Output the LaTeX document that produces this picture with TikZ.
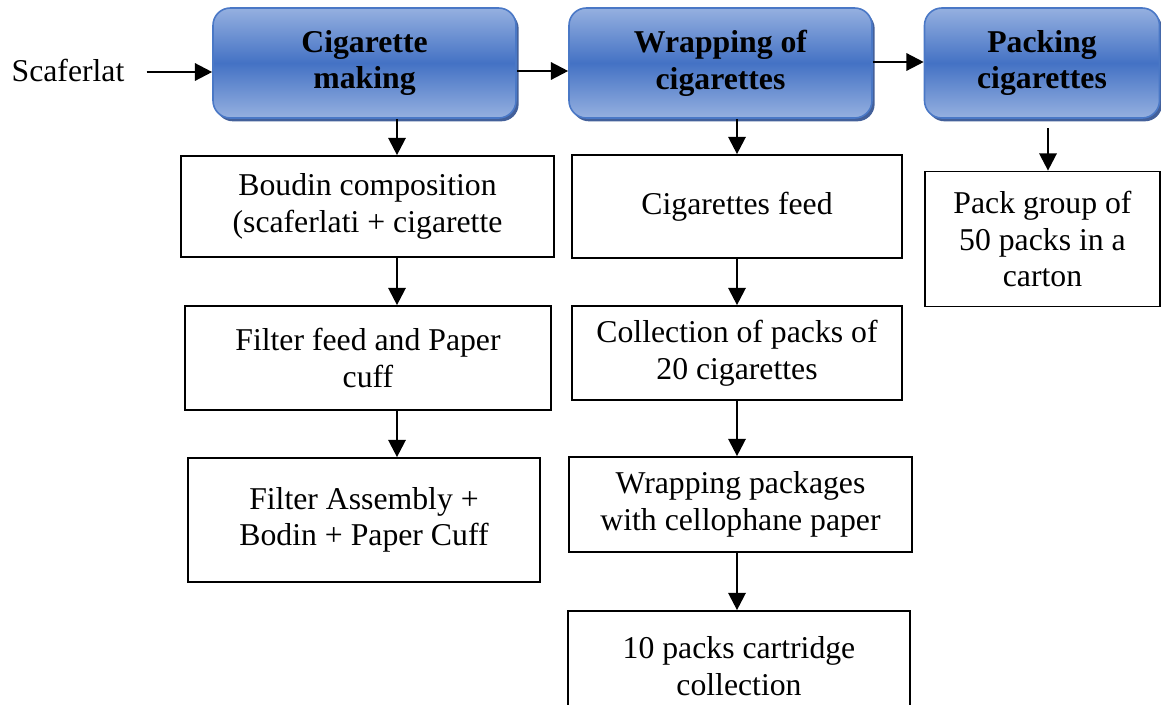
\documentclass[tikz,border=0pt]{standalone}
\usepackage{fontspec}
\setmainfont{Liberation Serif}
\usetikzlibrary{arrows.meta,shadows}
\definecolor{blueTop}{HTML}{95B0E0}
\definecolor{blueMid}{HTML}{4472C4}
\definecolor{blueEdge}{HTML}{4A78C6}
\definecolor{blueShadow}{HTML}{2F4F8F}
\begin{document}
\begin{tikzpicture}[x=0.75pt,y=-0.75pt,
  every node/.style={font=\fontsize{23.8}{27.5}\selectfont, inner sep=0pt, align=center},
  stagebox/.style={rectangle, rounded corners=13pt, draw=blueEdge, line width=1.2pt,
    top color=blueTop, bottom color=blueTop, middle color=blueMid,
    font=\fontsize{23.8}{27.5}\selectfont\bfseries,
    drop shadow={shadow xshift=2pt, shadow yshift=-2.5pt, fill=blueShadow, opacity=0.9},
    minimum height=82.5pt},
  stepbox/.style={rectangle, draw=black, line width=1.3pt, fill=white},
  arr/.style={line width=1.8pt, -{Triangle[length=13pt,width=13pt]}}
]
\useasboundingbox (0,0) rectangle (1161,704);

% top stages
\node[stagebox, minimum width=227.25pt] (b1) at (364.5,63) {Cigarette\\making};
\node[stagebox, minimum width=227.25pt] (b2) at (720.5,63) {Wrapping of\\cigarettes};
\node[stagebox, minimum width=176.25pt] (b3) at (1042,63) {Packing\\cigarettes};

\node (scaf) at (68,70) {Scaferlat};

% column 1
\node[stepbox, minimum width=279.75pt, minimum height=75.75pt] (s1) at (367.5,206.5) {Boudin composition\\(scaferlati + cigarette};
\node[stepbox, minimum width=274.5pt, minimum height=78pt] (s2) at (368,358) {Filter feed and Paper\\cuff};
\node[stepbox, minimum width=264pt, minimum height=93pt] (s3) at (364,520) {Filter Assembly +\\Bodin + Paper Cuff};

% column 2
\node[stepbox, minimum width=247.5pt, minimum height=77.25pt] (w1) at (737,206.5) {Cigarettes feed};
\node[stepbox, minimum width=247.5pt, minimum height=70.5pt] (w2) at (737,353) {Collection of packs of\\20 cigarettes};
\node[stepbox, minimum width=257.25pt, minimum height=71.25pt] (w3) at (740.5,504.5) {Wrapping packages\\with cellophane paper};
\node[stepbox, minimum width=256.5pt, minimum height=82.5pt] (w4) at (739,666) {10 packs cartridge\\collection};

% column 3
\node[stepbox, minimum width=176.25pt, minimum height=101.25pt] (p1) at (1042.5,239) {Pack group of\\50 packs in a\\carton};

% connector positions
\coordinate (cx1) at (397,0);
\coordinate (cx2) at (737,0);
\coordinate (cx3) at (1048,0);
\coordinate (h1) at (0,72);
\coordinate (h2) at (0,71);
\coordinate (h3) at (0,62);

% horizontal arrows
\draw[arr] (scaf.east |- h1) ++(22,0) -- (b1.west |- h1);
\draw[arr] (b1.east |- h2) -- (b2.west |- h2);
\draw[arr] (b2.east |- h3) -- (b3.west |- h3);

% column 1 arrows
\draw[arr] (b1.south -| cx1) -- (s1.north -| cx1);
\draw[arr] (s1.south -| cx1) -- (s2.north -| cx1);
\draw[arr] (s2.south -| cx1) -- (s3.north -| cx1);

% column 2 arrows
\draw[arr] (b2.south -| cx2) -- (w1.north -| cx2);
\draw[arr] (w1.south -| cx2) -- (w2.north -| cx2);
\draw[arr] (w2.south -| cx2) -- (w3.north -| cx2);
\draw[arr] (w3.south -| cx2) -- (w4.north -| cx2);

% column 3 arrow
\draw[arr, shorten <=7pt] (b3.south -| cx3) -- (p1.north -| cx3);
\end{tikzpicture}
\end{document}
